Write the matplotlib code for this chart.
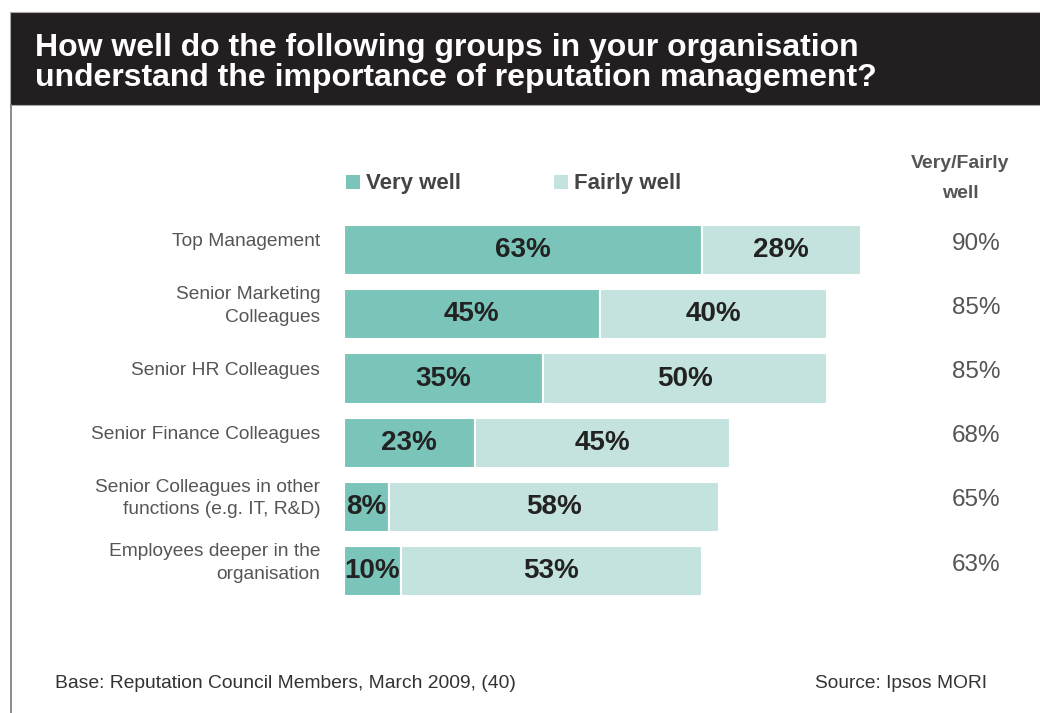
import matplotlib.pyplot as plt
from matplotlib.patches import Rectangle

plt.rcParams['font.family'] = ['Liberation Sans', 'DejaVu Sans']

groups = ['Top Management', 'Senior Marketing\nColleagues', 'Senior HR Colleagues',
          'Senior Finance Colleagues', 'Senior Colleagues in other\nfunctions (e.g. IT, R&D)',
          'Employees deeper in the\norganisation']
very_well = [63, 45, 35, 23, 8, 10]
fairly_well = [28, 40, 50, 45, 58, 53]
net_total = [90, 85, 85, 68, 65, 63]

title = ('How well do the following groups in your organisation\n'
         'understand the importance of reputation management?')
base_note = 'Base: Reputation Council Members, March 2009, (40)'
source_note = 'Source: Ipsos MORI'

c_very = '#7ac4b9'
c_fairly = '#c4e3de'
c_text = '#555555'

W, H = 1040, 713
fig = plt.figure(figsize=(W / 100, H / 100), dpi=100)

# header band and left frame line
fig.patches.append(Rectangle((10 / W, 1 - 105 / H), 1, 93 / H, transform=fig.transFigure,
                             facecolor='#231f20', edgecolor='#aaaaaa', lw=0.8, zorder=0))
fig.add_artist(plt.Line2D([11 / W, 11 / W], [0, 1 - 105 / H], transform=fig.transFigure,
                          color='#777777', lw=1.2))
fig.text(35 / W, 1 - 63 / H, title, color='white', fontsize=23, fontweight='bold',
         va='center', ha='left', linespacing=1.04)

# bar area: 0..100 % maps to 568 px starting at x=344
top_px, row_px = 218, 64.2
n = len(groups)
ax = fig.add_axes([344 / W, 1 - (top_px + n * row_px) / H, 568 / W, n * row_px / H])
ax.set_xlim(0, 100)
ax.set_ylim(n - 0.5, -0.5)
ax.axis('off')

ys = range(n)
ax.barh(ys, very_well, height=0.78, color=c_very, edgecolor='white', linewidth=1.5)
ax.barh(ys, fairly_well, left=very_well, height=0.78, color=c_fairly,
        edgecolor='white', linewidth=1.5)

for i in ys:
    v, f = very_well[i], fairly_well[i]
    ax.text(v / 2, i, f'{v}%', ha='center', va='center', fontsize=20,
            fontweight='bold', color='#222222')
    ax.text(v + f / 2, i, f'{f}%', ha='center', va='center', fontsize=20,
            fontweight='bold', color='#222222')
    ax.text(-4.2, i - 0.13, groups[i], ha='right', va='center', fontsize=13.8,
            color=c_text, linespacing=1.45, clip_on=False)
    ax.text(111.3, i - 0.1, f'{net_total[i]}%', ha='center', va='center',
            fontsize=17.5, color=c_text, clip_on=False)

# legend
for x0, label, col in [(346, 'Very well', c_very), (554, 'Fairly well', c_fairly)]:
    fig.patches.append(Rectangle((x0 / W, 1 - 189 / H), 14 / W, 14 / H,
                                 transform=fig.transFigure, facecolor=col, edgecolor='none'))
    fig.text((x0 + 20) / W, 1 - 184 / H, label, fontsize=16, fontweight='bold',
             color='#444444', va='center', ha='left')

fig.text(960 / W, 1 - 179 / H, 'Very/Fairly\nwell', fontsize=14, fontweight='bold',
         color=c_text, ha='center', va='center', linespacing=2.0)

fig.text(55 / W, 1 - 683 / H, base_note, fontsize=13.9, color='#333333', va='center')
fig.text(987 / W, 1 - 683 / H, source_note, fontsize=13.8, color='#333333',
         va='center', ha='right')

fig.savefig('out.png', dpi=100)
